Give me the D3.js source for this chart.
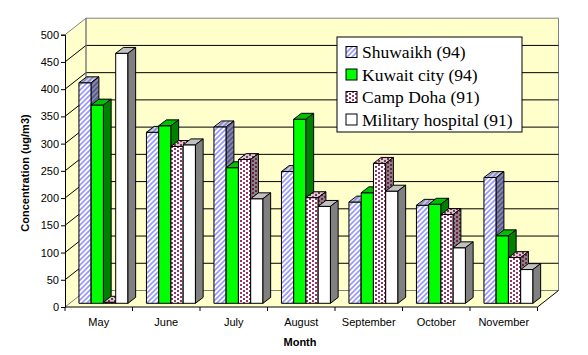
<!DOCTYPE html>
<html><head><meta charset="utf-8">
<script src="https://cdn.jsdelivr.net/npm/d3@7"></script>
<style>body{margin:0;background:#fff}svg{display:block}</style>
</head><body>
<script>
const months = ["May","June","July","August","September","October","November"];
const seriesNames = ["Shuwaikh (94)","Kuwait city (94)","Camp Doha (91)","Military hospital (91)"];
const shuwaikh = [405,314,324,242,186,180,231];
const kuwaitCity = [364,326,249,338,203,182,124];
const campDoha = [2,288,264,194,257,163,84];
const military = [459,291,192,178,206,102,62];
const yTicks = [0,50,100,150,200,250,300,350,400,450,500];
const values = [shuwaikh,kuwaitCity,campDoha,military];

const W=588,H=355;
const svg=d3.select("body").append("svg").attr("width",W).attr("height",H);
const defs=svg.append("defs");

// patterns
function stripe(id,bg,fg){
  const p=defs.append("pattern").attr("id",id).attr("patternUnits","userSpaceOnUse").attr("width",5).attr("height",5);
  p.append("rect").attr("width",5).attr("height",5).attr("fill",bg);
  p.append("path").attr("d","M-1,1 L1,-1 M0,5 L5,0 M4,6 L6,4").attr("stroke",fg).attr("stroke-width",1.7);
}
stripe("sF","#ffffff","#9999ff");
stripe("sT","#ccccdd","#8888cc");
stripe("sS","#8888aa","#555588");
function dots(id,bg,fg){
  const p=defs.append("pattern").attr("id",id).attr("patternUnits","userSpaceOnUse").attr("width",6).attr("height",4);
  p.append("rect").attr("width",6).attr("height",4).attr("fill",bg);
  p.append("rect").attr("x",0).attr("y",0).attr("width",2).attr("height",2).attr("fill",fg);
  p.append("rect").attr("x",3).attr("y",2).attr("width",2).attr("height",2).attr("fill",fg);
}
dots("dF","#ffffff","#993366");
dots("dT","#d8c8d0","#803355");
dots("dS","#908088","#662244");

const styles=[
  {front:"url(#sF)",top:"url(#sT)",side:"url(#sS)",legend:"url(#sF)"},
  {front:"#00ff00",top:"#00c000",side:"#008000",legend:"#00ff00"},
  {front:"url(#dF)",top:"url(#dT)",side:"url(#dS)",legend:"url(#dF)"},
  {front:"#ffffff",top:"#c0c0c0",side:"#808080",legend:"#ffffff"}
];

const x0=65,x1=537.5,yTop=34.7,yBot=307;
const WDX=21,WDY=16.5; // wall depth
const FDX=4.7,FDY=3.7; // front offset of bars
const BDX=7.7,BDY=5.9; // bar depth

const y=d3.scaleLinear().domain([0,500]).range([yBot,yTop]);
const x=d3.scaleBand().domain(months).range([x0,x1]);
const bw=x.bandwidth();
const groupW=49;
const xs=d3.scaleBand().domain(seriesNames).range([(bw-groupW)/2,(bw+groupW)/2]);

const pts=a=>a.map(p=>p.join(",")).join(" ");
// walls
const wall="#ffffcc";
svg.append("polygon").attr("points",pts([[x0,yBot],[x0,yTop],[x0+WDX,yTop-WDY],[x0+WDX,yBot-WDY]])).attr("fill",wall);
svg.append("polygon").attr("points",pts([[x0+WDX,yTop-WDY],[x1+WDX,yTop-WDY],[x1+WDX,yBot-WDY],[x0+WDX,yBot-WDY]])).attr("fill",wall).attr("stroke","#808080");
svg.append("polygon").attr("points",pts([[x0,yBot],[x1,yBot],[x1+WDX,yBot-WDY],[x0+WDX,yBot-WDY]])).attr("fill",wall);
// left wall top edge
svg.append("line").attr("x1",x0).attr("y1",yTop).attr("x2",x0+WDX).attr("y2",yTop-WDY).attr("stroke","#808080");
// gridlines
yTicks.filter(v=>v>0&&v<500).forEach(v=>{
  svg.append("polyline").attr("points",pts([[x0,y(v)],[x0+WDX,y(v)-WDY],[x1+WDX,y(v)-WDY]])).attr("fill","none").attr("stroke","#000").attr("stroke-width",1);
});
svg.append("polyline").attr("points",pts([[x0,yBot],[x0+WDX,yBot-WDY],[x1+WDX,yBot-WDY]])).attr("fill","none").attr("stroke","#808080");
svg.append("line").attr("x1",x0+WDX).attr("y1",yTop-WDY).attr("x2",x0+WDX).attr("y2",yBot-WDY).attr("stroke","#808080");
// floor right edge
svg.append("line").attr("x1",x1).attr("y1",yBot).attr("x2",x1+WDX).attr("y2",yBot-WDY).attr("stroke","#000");

// bars
const bars=svg.append("g").attr("stroke","#000").attr("stroke-width",1).attr("stroke-linejoin","miter");
months.forEach((m,i)=>{
  seriesNames.forEach((s,j)=>{
    const v=values[j][i];
    const bx=x(m)+xs(s)+FDX, w=xs.bandwidth();
    const base=y(0)-FDY, top=y(v)-FDY;
    const st=styles[j];
    bars.append("polygon").attr("points",pts([[bx,base],[bx+w,base],[bx+w,top],[bx,top]])).attr("fill",st.front);
    bars.append("polygon").attr("points",pts([[bx,top],[bx+w,top],[bx+w+BDX,top-BDY],[bx+BDX,top-BDY]])).attr("fill",st.top);
    bars.append("polygon").attr("points",pts([[bx+w,base],[bx+w,top],[bx+w+BDX,top-BDY],[bx+w+BDX,base-BDY]])).attr("fill",st.side);
  });
});

// axes
const font="'Liberation Sans', Arial, sans-serif";
const ya=svg.append("g").attr("transform",`translate(${x0},0)`).call(d3.axisLeft(y).tickValues(yTicks).tickSize(4).tickPadding(2).tickFormat(d3.format("d")));
ya.select(".domain").attr("stroke","#000");
ya.selectAll("text").attr("font-family",font).attr("font-size",11).attr("fill","#000");
const xa=svg.append("g").attr("transform",`translate(0,${yBot})`).call(d3.axisBottom(x).tickSize(0).tickPadding(11));
xa.select(".domain").attr("stroke","#000").attr("d",`M${x0},0H${x1}`);
xa.selectAll("text").attr("font-family",font).attr("font-size",11).attr("fill","#000");
const bounds=months.map(m=>x(m)).concat([x1]);
xa.selectAll(".bt").data(bounds).enter().append("line").attr("x1",d=>d).attr("x2",d=>d).attr("y1",0).attr("y2",4).attr("stroke","#000");

svg.append("text").attr("transform",`translate(29,173) rotate(-90)`).attr("text-anchor","middle").attr("font-family",font).attr("font-size",11).attr("font-weight","bold").text("Concentration (ug/m3)");
svg.append("text").attr("x",300).attr("y",346).attr("text-anchor","middle").attr("font-family",font).attr("font-size",11).attr("font-weight","bold").text("Month");

// legend
const lg=svg.append("g").attr("transform","translate(337,37)");
lg.append("rect").attr("width",185).attr("height",95).attr("fill","#fff").attr("stroke","#000");
seriesNames.forEach((s,j)=>{
  const cy=15+j*22.5;
  lg.append("rect").attr("x",9).attr("y",cy-5.5).attr("width",11).attr("height",11).attr("fill",styles[j].legend).attr("stroke","#000");
  lg.append("text").attr("x",25).attr("y",cy+6).attr("font-family","'Liberation Serif','Times New Roman',serif").attr("font-size",17.5).attr("fill","#000").text(s);
});
</script>
</body></html>
